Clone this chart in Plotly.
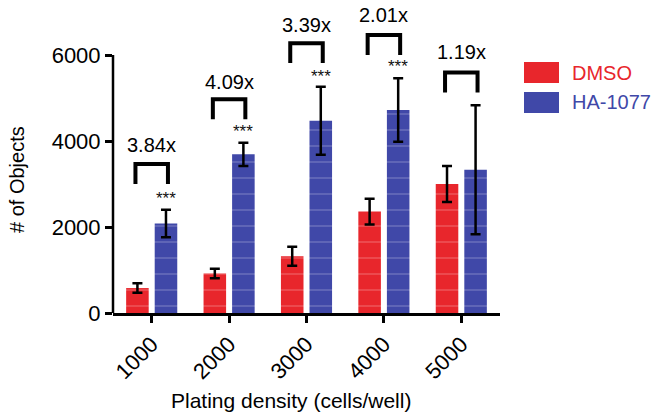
import plotly.graph_objects as go

categories = ["1000", "2000", "3000", "4000", "5000"]
dmso_values = [580, 920, 1320, 2360, 3000]
dmso_errors = [110, 110, 220, 300, 420]
ha_values = [2080, 3690, 4470, 4720, 3330]
ha_errors = [320, 270, 790, 740, 1500]
fold_labels = ["3.84x", "4.09x", "3.39x", "2.01x", "1.19x"]
sig_labels = ["***", "***", "***", "***", ""]
bracket_top = [3466, 4971, 6273, 6466, 5596]
bracket_leg = [3000, 4506, 5815, 6001, 5131]
fold_label_y = [3908, 5380, 6699, 6931, 6078]
sig_y = [2660, 4210, 5510, 5730, 0]
y_ticks = [0, 2000, 4000, 6000]

RED = "#E8262C"
BLUE = "#4048A8"
FONT = "Liberation Sans, Arial, sans-serif"

xs = list(range(len(categories)))
fig = go.Figure()

pattern = dict(shape="-", fgcolor="white", fgopacity=0.25, size=16, solidity=0.08)
fig.add_trace(go.Bar(
    x=xs, y=dmso_values, name="DMSO",
    marker=dict(color=RED, line=dict(width=0), pattern=pattern),
    error_y=dict(type="data", array=dmso_errors, color="black", thickness=2.5, width=5),
    showlegend=False,
))
fig.add_trace(go.Bar(
    x=xs, y=ha_values, name="HA-1077",
    marker=dict(color=BLUE, line=dict(width=0), pattern=pattern),
    error_y=dict(type="data", array=ha_errors, color="black", thickness=2.5, width=5),
    showlegend=False,
))

off = 0.21
for i, c in enumerate(xs):
    fig.add_trace(go.Scatter(
        x=[c - off, c - off, c + off, c + off],
        y=[bracket_leg[i], bracket_top[i], bracket_top[i], bracket_leg[i]],
        mode="lines", line=dict(color="black", width=4), showlegend=False,
        hoverinfo="skip",
    ))
    fig.add_annotation(x=c, y=fold_label_y[i], text=fold_labels[i], showarrow=False,
                       font=dict(family=FONT, size=20, color="black"), xanchor="center", yanchor="middle")
    if sig_labels[i]:
        fig.add_annotation(x=c + 0.185, y=sig_y[i], text=sig_labels[i], showarrow=False,
                           font=dict(family=FONT, size=17, color="#111111"), xanchor="center", yanchor="middle")

# y axis line only up to 6000
fig.add_shape(type="line", xref="paper", yref="y", x0=0, x1=0, y0=0, y1=6000,
              line=dict(color="black", width=2.5))

# legend (manual)
legend_items = [("DMSO", RED, 0.0), ("HA-1077", BLUE, 1.0)]
lx0, lx1 = 524, 559
for name, col, k in legend_items:
    y0 = 62 + k * 30
    y1 = y0 + 21
    fig.add_shape(type="rect", xref="paper", yref="paper",
                  x0=(lx0 - 113) / 387, x1=(lx1 - 113) / 387,
                  y0=(313 - y1) / 303, y1=(313 - y0) / 303,
                  fillcolor=col, line=dict(width=0))
    fig.add_annotation(xref="paper", yref="paper", x=(570 - 113) / 387, y=(313 - (y0 + 10.5)) / 303,
                       text=name, showarrow=False, xanchor="left", yanchor="middle",
                       font=dict(family=FONT, size=20, color=col))

# axis titles
fig.add_annotation(xref="paper", yref="paper", x=(17 - 113) / 387, y=(313 - 180) / 303,
                   text="# of Objects", textangle=-90, showarrow=False,
                   xanchor="center", yanchor="middle", font=dict(family=FONT, size=20, color="black"))
fig.add_annotation(xref="paper", yref="paper", x=(291 - 113) / 387, y=(313 - 400) / 303,
                   text="Plating density (cells/well)", showarrow=False,
                   xanchor="center", yanchor="middle", font=dict(family=FONT, size=21, color="black"))

fig.update_layout(
    width=662, height=418,
    margin=dict(l=113, r=162, t=10, b=105),
    paper_bgcolor="white", plot_bgcolor="white",
    barmode="group", bargap=0.262, bargroupgap=0.21,
    font=dict(family=FONT, color="black"),
)
fig.update_xaxes(
    range=[-0.5, 4.5], tickvals=xs, ticktext=categories, tickangle=-45,
    showline=True, linecolor="black", linewidth=2.5, ticks="outside", ticklen=7,
    tickwidth=2.5, tickcolor="black", showgrid=False, zeroline=False,
    tickfont=dict(family=FONT, size=22, color="black"),
)
fig.update_yaxes(
    range=[0, 7047], tickvals=y_ticks, ticks="outside", ticklen=7, tickwidth=2.5,
    tickcolor="black", showline=False, showgrid=False, zeroline=False,
    tickfont=dict(family=FONT, size=22, color="black"),
)

fig.write_html("out.html", config={"displayModeBar": False},
               post_script="document.body.style.margin='0';document.body.style.overflow='hidden';")
